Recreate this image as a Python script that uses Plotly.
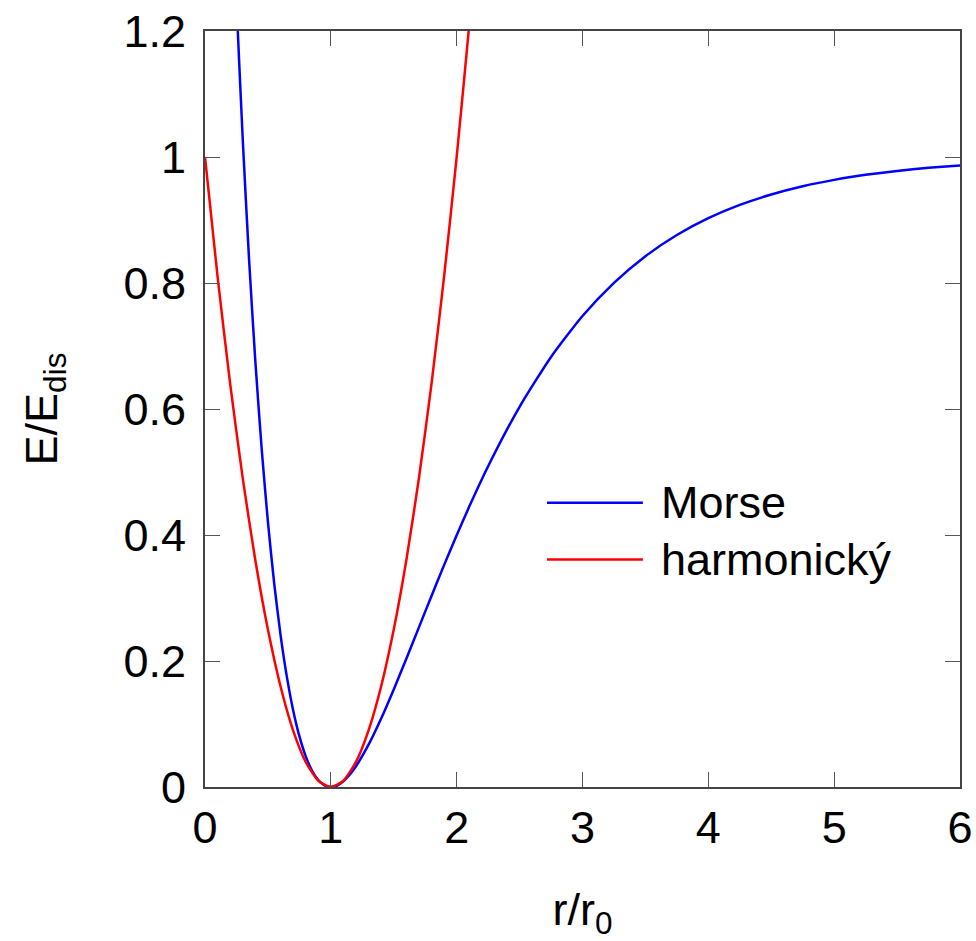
import plotly.graph_objects as go

# Morse potential samples (r/r0, E/Edis)
morse_r = [0.2, 0.25, 0.3, 0.35, 0.4, 0.45, 0.5, 0.55, 0.6, 0.65, 0.7, 0.75, 0.8, 0.85, 0.9, 0.95,
           1.0, 1.05, 1.1, 1.15, 1.2, 1.3, 1.4, 1.5, 1.6, 1.7, 1.8, 1.9, 2.0, 2.1, 2.25, 2.5, 2.75,
           3.0, 3.25, 3.5, 3.75, 4.0, 4.25, 4.5, 4.75, 5.0, 5.25, 5.5, 5.75, 6.0]
morse_e = [1.502, 1.2477, 1.0277, 0.8381, 0.6759, 0.5377, 0.4208, 0.3230, 0.2419, 0.1756, 0.1224,
           0.08066, 0.0490, 0.02619, 0.01107, 0.002629, 0.0, 0.002379, 0.00906, 0.01940, 0.03287,
           0.06718, 0.1087, 0.15482, 0.2036, 0.25342, 0.3033, 0.35216, 0.3996, 0.44506, 0.5091,
           0.6035, 0.6826, 0.7477, 0.80031, 0.8426, 0.87623, 0.9029, 0.92395, 0.9405, 0.95352,
           0.9637, 0.97168, 0.9779, 0.98277, 0.9866]

# Harmonic approximation samples
harm_r = [0.0, 0.1, 0.2, 0.3, 0.4, 0.5, 0.6, 0.7, 0.8, 0.9, 1.0, 1.1, 1.2, 1.3, 1.4, 1.5, 1.6,
          1.7, 1.8, 1.9, 2.0, 2.1, 2.2]
harm_e = [1.0, 0.81, 0.64, 0.49, 0.36, 0.25, 0.16, 0.09, 0.04, 0.01, 0.0, 0.01, 0.04, 0.09, 0.16,
          0.25, 0.36, 0.49, 0.64, 0.81, 1.0, 1.21, 1.44]

x_ticks = [0, 1, 2, 3, 4, 5, 6]
y_ticks = [0, 0.2, 0.4, 0.6, 0.8, 1.0, 1.2]
y_ticktext = ["0", "0.2", "0.4", "0.6", "0.8", "1", "1.2"]
series_names = ["Morse", "harmonický"]
series_colors = ["#0000ff", "#ff0000"]

FONT = "Liberation Sans, Arial, sans-serif"
FS = 45

fig = go.Figure()
fig.add_trace(go.Scatter(x=morse_r, y=morse_e, mode="lines", name=series_names[0],
                         line=dict(color=series_colors[0], width=2.5, shape="spline", smoothing=0.6)))
fig.add_trace(go.Scatter(x=harm_r, y=harm_e, mode="lines", name=series_names[1],
                         line=dict(color=series_colors[1], width=2.5, shape="spline", smoothing=0.6)))

axis_common = dict(showline=True, linecolor="#444444", linewidth=2, mirror="ticks",
                   ticks="inside", ticklen=15, tickwidth=1.3, tickcolor="#555555",
                   showgrid=False, zeroline=False, automargin=False,
                   ticklabeloverflow="allow",
                   tickfont=dict(family=FONT, size=FS, color="black"))

fig.update_xaxes(range=[0, 6], tickvals=x_ticks, ticktext=[str(v) for v in x_ticks],
                 title=dict(text="r/r<sub>0</sub>", font=dict(family=FONT, size=FS, color="black"),
                            standoff=44),
                 **axis_common)
fig.update_yaxes(range=[0, 1.2], tickvals=y_ticks, ticktext=y_ticktext, ticklabelstandoff=8,
                 title=dict(text="E/E<sub>dis</sub>", font=dict(family=FONT, size=FS, color="black"),
                            standoff=52),
                 **axis_common)

# manual legend (long line samples like the reference)
leg_y = [0.376, 0.301]
for i, (name, col) in enumerate(zip(series_names, series_colors)):
    fig.add_shape(type="line", xref="paper", yref="paper", x0=0.453, x1=0.580,
                  y0=leg_y[i], y1=leg_y[i], line=dict(color=col, width=2.5))
    fig.add_annotation(xref="paper", yref="paper", x=0.601, y=leg_y[i], text=name,
                       showarrow=False, xanchor="left", yanchor="middle",
                       font=dict(family=FONT, size=FS, color="black"))

fig.update_layout(width=976, height=941, showlegend=False,
                  margin=dict(l=205, r=16, t=31, b=154),
                  plot_bgcolor="white", paper_bgcolor="white")

fig.write_html("out.html", config={"displayModeBar": False},
               post_script="document.body.style.margin='0';document.body.style.overflow='hidden';")
